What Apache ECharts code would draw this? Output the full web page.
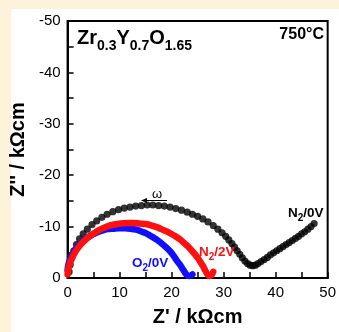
<!DOCTYPE html>
<html><head><meta charset="utf-8">
<script src="https://cdn.jsdelivr.net/npm/echarts@6/dist/echarts.min.js"></script>
<style>html,body{margin:0;padding:0;background:#fdf3da;overflow:hidden}#c{width:339px;height:332px}</style>
</head><body><div id="c"></div>
<script>
// ---- data (Z' in kOhm cm, Z'' in kOhm cm) ----
const xTickValues = [0, 10, 20, 30, 40, 50];
const yTickValues = [-50, -40, -30, -20, -10, 0];

const n2_0V_x = [0.3,0.5,0.8,1.2,1.7,2.3,3.0,3.8,4.7,5.6,6.6,7.6,8.7,9.8,10.9,12.0,13.1,14.2,15.3,16.4,17.5,18.6,19.7,20.8,21.9,23.0,24.0,25.0,26.0,27.0,28.0,28.9,29.7,30.4,31.0,31.6,32.1,32.6,33.1,33.6,34.1,34.6,35.1,35.6,36.1,36.6,37.2,37.8,38.4,39.0,39.6,40.2,40.8,41.4,42.0,42.6,43.2,43.8,44.4,45.0,45.6,46.2,46.8,47.4];
const n2_0V_z = [-1.2,-2.6,-4.0,-5.3,-6.5,-7.6,-8.6,-9.5,-10.4,-11.1,-11.8,-12.4,-12.9,-13.3,-13.6,-13.8,-14.0,-14.1,-14.2,-14.2,-14.1,-14.0,-13.8,-13.5,-13.2,-12.8,-12.4,-12.0,-11.5,-10.9,-10.2,-9.5,-8.8,-8.1,-7.4,-6.7,-6.0,-5.3,-4.6,-3.9,-3.3,-2.8,-2.5,-2.4,-2.5,-2.8,-3.2,-3.6,-4.0,-4.5,-4.9,-5.3,-5.7,-6.1,-6.5,-6.9,-7.3,-7.7,-8.1,-8.6,-9.0,-9.5,-10.0,-10.6];

const o2_0V_x = [0.0,0.1,0.3,0.6,1.0,1.5,2.1,2.8,3.6,4.5,5.5,6.6,7.7,8.8,9.9,11.0,12.1,13.2,14.3,15.3,16.3,17.2,18.1,18.9,19.7,20.4,21.0,21.6,22.1,22.6,23.0,23.5,24.0];
const o2_0V_z = [-1.5,-2.3,-3.1,-3.9,-4.7,-5.5,-6.3,-7.0,-7.7,-8.3,-8.8,-9.2,-9.5,-9.6,-9.7,-9.7,-9.6,-9.4,-9.0,-8.6,-8.0,-7.4,-6.7,-6.0,-5.2,-4.3,-3.4,-2.6,-1.8,-1.0,-0.5,-0.4,-0.7];

const n2_2V_x = [0.0,0.1,0.3,0.6,1.0,1.5,2.1,2.8,3.6,4.5,5.5,6.6,7.8,9.0,10.2,11.4,12.6,13.8,15.0,16.2,17.4,18.5,19.6,20.6,21.5,22.3,23.1,23.8,24.5,25.1,25.6,26.1,26.5,26.9,27.3,27.7,28.0];
const n2_2V_z = [-0.7,-1.5,-2.4,-3.3,-4.2,-5.1,-6.0,-6.8,-7.6,-8.3,-9.0,-9.6,-10.1,-10.4,-10.6,-10.7,-10.7,-10.6,-10.5,-10.2,-9.8,-9.3,-8.8,-8.2,-7.6,-6.9,-6.2,-5.4,-4.6,-3.8,-3.0,-2.2,-1.4,-0.7,-0.4,-0.6,-1.2];

const seriesNames = ['N2/0V', 'O2/0V', 'N2/2V'];

const pair = (xs, ys) => xs.map((x, i) => [x, ys[i]]);

const FONT = "'Liberation Sans', Arial, sans-serif";
const RED = '#ff1010', BLUE = '#1010ff';

// text with subscripts, built from separate text pieces
const mctx = document.createElement('canvas').getContext('2d');
function subText(x, baseline, segs, mainSize, subSize, drop, color) {
  const out = [];
  let cx = x;
  segs.forEach(([t, sub]) => {
    const size = sub ? subSize : mainSize;
    const font = 'bold ' + size + 'px ' + FONT;
    mctx.font = font;
    const w = mctx.measureText(t).width;
    const b = baseline + (sub ? drop : 0);
    out.push({type: 'text', z: 100, silent: true, x: cx, y: b - 0.35 * size,
      style: {text: t, font: font, fill: color, textAlign: 'left', textVerticalAlign: 'middle'}});
    cx += w;
  });
  return out;
}

const chart = echarts.init(document.getElementById('c'), null, {renderer: 'canvas'});

chart.setOption({
  animation: false,
  backgroundColor: '#fdf3da',
  grid: {left: 67, top: 21, width: 265.5, height: 261, show: true, borderColor: '#000', borderWidth: 2, backgroundColor: 'transparent'},
  xAxis: {
    type: 'value', min: xTickValues[0], max: xTickValues[xTickValues.length - 1], interval: 10,
    name: "Z' / kΩcm", nameLocation: 'middle', nameGap: 29,
    nameTextStyle: {fontFamily: FONT, fontWeight: 'bold', fontSize: 20, color: '#000'},
    axisLine: {show: true, onZero: false, lineStyle: {color: '#000', width: 2}},
    axisTick: {show: true, inside: true, length: 6, lineStyle: {color: '#000', width: 1.5}},
    minorTick: {show: true, splitNumber: 2, length: 6, lineStyle: {color: '#000', width: 1.5}},
    axisLabel: {fontFamily: FONT, fontSize: 15, color: '#000', margin: 7},
    splitLine: {show: false}
  },
  yAxis: {
    type: 'value', min: yTickValues[0], max: yTickValues[yTickValues.length - 1], interval: 10, inverse: true,
    name: "Z'' / kΩcm", nameLocation: 'middle', nameGap: 27, nameRotate: 90,
    nameTextStyle: {fontFamily: FONT, fontWeight: 'bold', fontSize: 20, color: '#000'},
    axisLine: {show: true, onZero: false, lineStyle: {color: '#000', width: 2}},
    axisTick: {show: true, inside: true, length: 6, lineStyle: {color: '#000', width: 1.5}},
    minorTick: {show: true, splitNumber: 2, length: 6, lineStyle: {color: '#000', width: 1.5}},
    axisLabel: {fontFamily: FONT, fontSize: 15, color: '#000', margin: 7},
    splitLine: {show: false}
  },
  series: [
    {name: seriesNames[0], type: 'scatter', data: pair(n2_0V_x, n2_0V_z), symbol: 'circle', symbolSize: 7.2,
     itemStyle: {color: '#000'}, z: 2},
    {name: seriesNames[1], type: 'line', data: pair(o2_0V_x, o2_0V_z), showSymbol: false, smooth: 0.3,
     lineStyle: {color: BLUE, width: 6.5, cap: 'round', join: 'round'}, z: 3},
    {name: seriesNames[2], type: 'line', data: pair(n2_2V_x, n2_2V_z), showSymbol: false, smooth: 0.3,
     lineStyle: {color: RED, width: 6.5, cap: 'round', join: 'round'}, z: 4}
  ],
  graphic: [
    {type: 'rect', z: -100, silent: true, shape: {x: 11, y: 9, width: 330, height: 330}, style: {fill: '#ffffff'}},
    ...subText(77, 45, [['Zr', 0], ['0.3', 1], ['Y', 0], ['0.7', 1], ['O', 0], ['1.65', 1]], 20, 14, 6.5, '#000'),
    {type: 'text', z: 100, x: 324, y: 35, style: {text: '750°C', fill: '#000', font: "bold 16px " + FONT, textAlign: 'right', textVerticalAlign: 'middle'}},
    ...subText(288, 218, [['N', 0], ['2', 1], ['/0V', 0]], 13.5, 10, 3.5, '#000'),
    ...subText(199, 257, [['N', 0], ['2', 1], ['/2V', 0]], 13.5, 10, 3.5, RED),
    ...subText(132, 268, [['O', 0], ['2', 1], ['/0V', 0]], 13.5, 10, 3.5, BLUE),
    {type: 'text', z: 100, x: 157, y: 194, style: {text: 'ω', fill: '#000', font: "13px " + FONT, textAlign: 'center', textVerticalAlign: 'middle'}},
    {type: 'line', z: 100, shape: {x1: 145, y1: 200.5, x2: 167, y2: 200.5}, style: {stroke: '#000', lineWidth: 1}},
    {type: 'polygon', z: 100, shape: {points: [[141, 200.5], [147, 198], [147, 203]]}, style: {fill: '#000'}}
  ]
});
</script></body></html>
